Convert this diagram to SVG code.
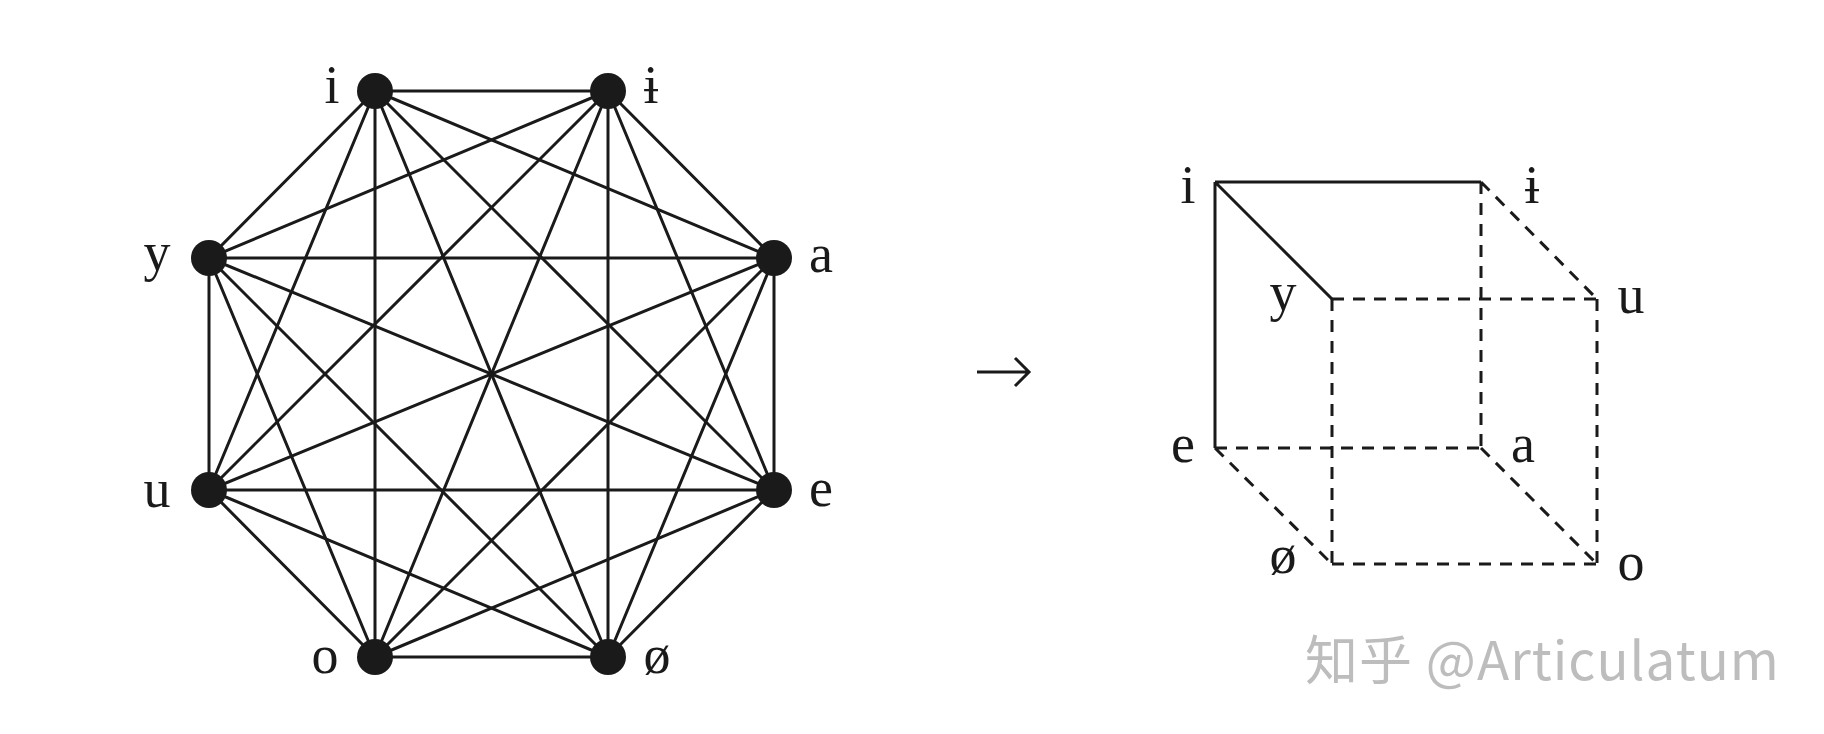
<svg xmlns="http://www.w3.org/2000/svg" width="1824" height="734" viewBox="0 0 1824 734">
<style>
.e{stroke:#1a1a1a;stroke-width:3;fill:none}
.d{stroke:#1a1a1a;stroke-width:3;fill:none;stroke-dasharray:12 9}
.n{fill:#1a1a1a}
.l{font-family:"Liberation Serif","DejaVu Serif",serif;font-size:54px;fill:#1a1a1a;text-anchor:middle}
.w{font-family:"Noto Sans CJK SC","Noto Sans",sans-serif;font-size:53px;fill:#bdbdbd;letter-spacing:1px}
</style>
<rect width="1824" height="734" fill="#fff"/>
<g id="connectors">
<g id="octagon-edges" class="e">
<path d="M375,91L608,91M375,91L774,258M375,91L774,490M375,91L608,657M375,91L375,657M375,91L209,490M375,91L209,258"/>
<path d="M608,91L774,258M608,91L774,490M608,91L608,657M608,91L375,657M608,91L209,490M608,91L209,258"/>
<path d="M774,258L774,490M774,258L608,657M774,258L375,657M774,258L209,490M774,258L209,258"/>
<path d="M774,490L608,657M774,490L375,657M774,490L209,490M774,490L209,258"/>
<path d="M608,657L375,657M608,657L209,490M608,657L209,258"/>
<path d="M375,657L209,490M375,657L209,258"/>
<path d="M209,490L209,258"/>
</g>
<g id="cube-edges">
<path class="e" d="M1215,182L1481,182M1215,182L1215,448M1215,182L1332,299"/>
<path class="d" d="M1481,182L1481,448M1481,182L1597,299M1332,299L1597,299M1332,299L1332,564M1597,299L1597,564M1215,448L1481,448M1215,448L1332,564M1481,448L1597,564M1332,564L1597,564"/>
</g>
<path id="arrow" class="e" d="M977,372L1028,372M1015,358L1029,372L1015,386"/>
</g>
<g id="node-i"><circle class="n" cx="375" cy="91" r="18"/><text class="l" x="332" y="103">i</text></g>
<g id="node-ibar"><circle class="n" cx="608" cy="91" r="18"/><text class="l" x="651" y="103">ɨ</text></g>
<g id="node-a"><circle class="n" cx="774" cy="258" r="18"/><text class="l" x="821" y="272">a</text></g>
<g id="node-e"><circle class="n" cx="774" cy="490" r="18"/><text class="l" x="821" y="506">e</text></g>
<g id="node-oslash"><circle class="n" cx="608" cy="657" r="18"/><text class="l" x="657" y="673">ø</text></g>
<g id="node-o"><circle class="n" cx="375" cy="657" r="18"/><text class="l" x="325" y="673">o</text></g>
<g id="node-u"><circle class="n" cx="209" cy="490" r="18"/><text class="l" x="157" y="507">u</text></g>
<g id="node-y"><circle class="n" cx="209" cy="258" r="18"/><text class="l" x="157" y="270">y</text></g>
<g id="cube-i"><text class="l" x="1188" y="203">i</text></g>
<g id="cube-ibar"><text class="l" x="1532" y="203">ɨ</text></g>
<g id="cube-y"><text class="l" x="1283" y="310">y</text></g>
<g id="cube-u"><text class="l" x="1631" y="313">u</text></g>
<g id="cube-e"><text class="l" x="1183" y="462">e</text></g>
<g id="cube-a"><text class="l" x="1523" y="462">a</text></g>
<g id="cube-oslash"><text class="l" x="1283" y="573">ø</text></g>
<g id="cube-o"><text class="l" x="1631" y="580">o</text></g>
<text class="w" x="1305" y="680">知乎 @Articulatum</text>
</svg>
